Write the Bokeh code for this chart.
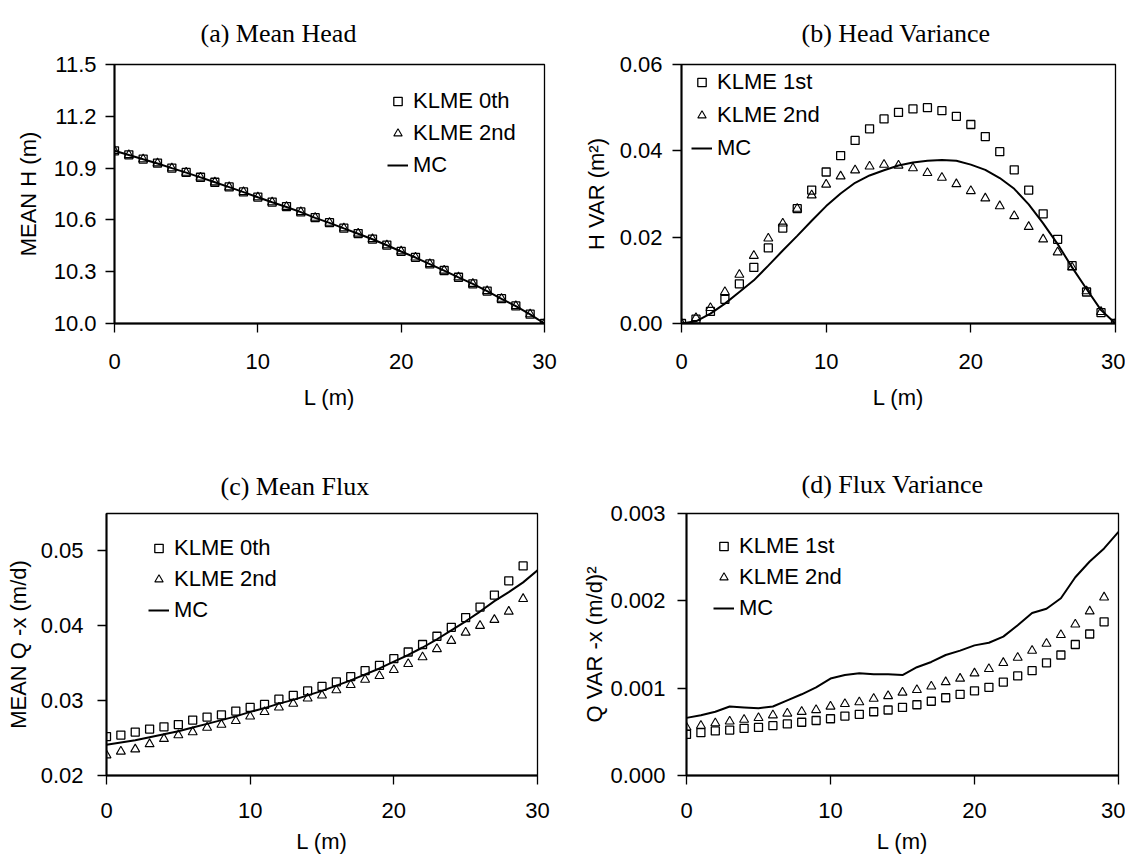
from bokeh.plotting import figure
from bokeh.layouts import column, row
from bokeh.models import (FixedTicker, NumeralTickFormatter, Legend, LegendItem, Range1d)
from bokeh.embed import file_html
from bokeh.resources import INLINE

# ---------------- data ----------------
L_pts = list(range(31))          # nodes 0..30 (panels a, b)
L_flux = list(range(30))         # cells 0..29 (panels c, d)
L_mc = list(range(31))

head_klme0 = [11.000, 10.977, 10.952, 10.929, 10.900, 10.875, 10.847, 10.818, 10.791, 10.762,
              10.732, 10.703, 10.677, 10.646, 10.613, 10.584, 10.552, 10.521, 10.489, 10.454,
              10.418, 10.383, 10.345, 10.307, 10.268, 10.230, 10.188, 10.144, 10.102, 10.054, 10.000]
head_klme2 = [11.000, 10.976, 10.952, 10.928, 10.900, 10.874, 10.846, 10.818, 10.790, 10.762,
              10.732, 10.703, 10.676, 10.646, 10.613, 10.584, 10.552, 10.521, 10.489, 10.454,
              10.418, 10.383, 10.345, 10.307, 10.268, 10.230, 10.188, 10.144, 10.102, 10.054, 10.000]
head_mc = [11.000, 10.976, 10.951, 10.927, 10.900, 10.874, 10.846, 10.818, 10.790, 10.761,
           10.731, 10.702, 10.675, 10.645, 10.612, 10.583, 10.551, 10.520, 10.488, 10.453,
           10.417, 10.382, 10.344, 10.306, 10.267, 10.229, 10.187, 10.143, 10.101, 10.053, 10.000]

hvar_klme1 = [0.0, 0.0010, 0.0028, 0.0056, 0.0092, 0.0130, 0.0175, 0.0221, 0.0266, 0.0309,
              0.0351, 0.0389, 0.0424, 0.0451, 0.0474, 0.0489, 0.0497, 0.0500, 0.0493, 0.0480,
              0.0461, 0.0433, 0.0398, 0.0356, 0.0309, 0.0254, 0.0195, 0.0134, 0.0073, 0.0025, 0.0]
hvar_klme2 = [0.0, 0.0013, 0.0036, 0.0073, 0.0113, 0.0157, 0.0197, 0.0232, 0.0266, 0.0297,
              0.0322, 0.0341, 0.0355, 0.0364, 0.0368, 0.0366, 0.0360, 0.0349, 0.0338, 0.0323,
              0.0307, 0.0290, 0.0272, 0.0249, 0.0224, 0.0195, 0.0165, 0.0130, 0.0075, 0.0027, 0.0]
hvar_mc = [0.0, 0.0005, 0.0023, 0.0046, 0.0073, 0.0100, 0.0134, 0.0169, 0.0203, 0.0238,
           0.0272, 0.0301, 0.0326, 0.0343, 0.0355, 0.0366, 0.0373, 0.0377, 0.0379, 0.0377,
           0.0368, 0.0356, 0.0337, 0.0312, 0.0276, 0.0232, 0.0184, 0.0130, 0.0080, 0.0031, 0.0]

qmean_klme0 = [0.0252, 0.0254, 0.0258, 0.0262, 0.0265, 0.0268, 0.0274, 0.0278, 0.0281, 0.0286,
               0.0291, 0.0295, 0.0302, 0.0307, 0.0313, 0.0319, 0.0325, 0.0332, 0.0340, 0.0347,
               0.0356, 0.0365, 0.0375, 0.0386, 0.0398, 0.0411, 0.0425, 0.0441, 0.0460, 0.0480]
qmean_klme2 = [0.0227, 0.0232, 0.0235, 0.0242, 0.0249, 0.0254, 0.0258, 0.0264, 0.0268, 0.0273,
               0.0279, 0.0285, 0.0291, 0.0296, 0.0303, 0.0307, 0.0314, 0.0321, 0.0328, 0.0333,
               0.0341, 0.0349, 0.0358, 0.0369, 0.0380, 0.0391, 0.0400, 0.0408, 0.0419, 0.0436]
qmean_mc = [0.0241, 0.0244, 0.0247, 0.0251, 0.0255, 0.0259, 0.0264, 0.0269, 0.0274, 0.0279,
            0.0285, 0.0290, 0.0296, 0.0301, 0.0307, 0.0313, 0.0320, 0.0327, 0.0335, 0.0343,
            0.0352, 0.0361, 0.0371, 0.0382, 0.0394, 0.0406, 0.0419, 0.0433, 0.0445, 0.0458, 0.0474]

qvar_klme1 = [0.00047, 0.00049, 0.00051, 0.00052, 0.00054, 0.00055, 0.00057, 0.00059, 0.00061, 0.00063,
              0.00065, 0.00068, 0.00070, 0.00073, 0.00075, 0.00078, 0.00081, 0.00085, 0.00089, 0.00093,
              0.00097, 0.00101, 0.00107, 0.00114, 0.00120, 0.00129, 0.00138, 0.00150, 0.00162, 0.00176]
qvar_klme2 = [0.00055, 0.00057, 0.00060, 0.00062, 0.00064, 0.00066, 0.00069, 0.00071, 0.00073, 0.00075,
              0.00079, 0.00082, 0.00084, 0.00088, 0.00091, 0.00095, 0.00098, 0.00102, 0.00107, 0.00111,
              0.00117, 0.00122, 0.00129, 0.00135, 0.00143, 0.00151, 0.00161, 0.00173, 0.00188, 0.00204]
qvar_mc = [0.00066, 0.00069, 0.00073, 0.00079, 0.00078, 0.00077, 0.00079, 0.00086, 0.00093, 0.00101,
           0.00111, 0.00115, 0.00117, 0.00116, 0.00116, 0.00115, 0.00124, 0.00130, 0.00138, 0.00143,
           0.00149, 0.00152, 0.00159, 0.00172, 0.00186, 0.00191, 0.00203, 0.00227, 0.00245, 0.00260, 0.00279]

x_ticks = [0, 10, 20, 30]

SANS = "Liberation Sans"
SERIF = "Liberation Serif"
FS = "22px"


def panel(width, height, bl, br, bt, bb, yr, yticks, yfmt, ylabel,
          tick_stand, ylab_stand, xstand, title, title_offset, title_valign, title_standoff):
    p = figure(width=width, height=height, x_range=Range1d(0, 30), y_range=Range1d(*yr),
               output_backend="svg", toolbar_location=None, title=title,
               min_border_left=bl, min_border_right=br, min_border_top=bt, min_border_bottom=bb)
    p.title.align = "left"
    p.title.offset = title_offset
    p.title.vertical_align = title_valign
    p.title.standoff = title_standoff
    p.title.text_font = SERIF
    p.title.text_font_size = "26px"
    p.title.text_font_style = "normal"
    p.title.text_color = "black"
    p.grid.visible = False
    p.outline_line_color = "black"
    p.outline_line_width = 1.3
    p.background_fill_color = "white"
    p.border_fill_color = "white"
    for ax in (p.xaxis[0], p.yaxis[0]):
        ax.axis_line_width = 2
        ax.axis_line_color = "black"
        ax.major_tick_out = 9
        ax.major_tick_in = 0
        ax.minor_tick_out = 0
        ax.minor_tick_in = 0
        ax.major_tick_line_width = 1.3
        ax.major_label_text_font = SANS
        ax.major_label_text_font_size = FS
        ax.major_label_text_color = "black"
        ax.axis_label_text_font = SANS
        ax.axis_label_text_font_size = FS
        ax.axis_label_text_font_style = "normal"
        ax.axis_label_text_color = "black"
    p.xaxis.ticker = FixedTicker(ticks=x_ticks)
    p.xaxis.axis_label = "L (m)"
    p.xaxis.major_label_standoff = xstand[0]
    p.xaxis.axis_label_standoff = xstand[1]
    p.yaxis.ticker = FixedTicker(ticks=yticks)
    p.yaxis.formatter = NumeralTickFormatter(format=yfmt)
    p.yaxis.axis_label = ylabel
    p.yaxis.major_label_standoff = tick_stand
    p.yaxis.axis_label_standoff = ylab_stand
    return p


def series(p, xs_pts, y_sq, y_tri, y_mc, labels, loc, spacing):
    r_sq = p.scatter(xs_pts, y_sq, marker="square", size=8, fill_color=None,
                     line_color="black", line_width=1.3)
    r_tri = p.scatter(xs_pts, y_tri, marker="triangle", size=9, fill_color=None,
                      line_color="black", line_width=1.1)
    r_mc = p.line(L_mc, y_mc, line_color="black", line_width=2)
    leg = Legend(items=[LegendItem(label=labels[0], renderers=[r_sq]),
                        LegendItem(label=labels[1], renderers=[r_tri]),
                        LegendItem(label="MC", renderers=[r_mc])],
                 location=loc, border_line_color=None, background_fill_alpha=0,
                 padding=0, margin=0, spacing=spacing, glyph_width=21, glyph_height=24,
                 label_height=24, label_standoff=5, label_text_font=SANS,
                 label_text_font_size=FS, label_text_color="black")
    p.add_layout(leg)


TOP_X = (21, 13)
BOT_X = (18, 8)

pa = panel(566, 412, 114, 22, 64, 88, (10.0, 11.5), [10.0, 10.3, 10.6, 10.9, 11.2, 11.5], "0.0",
           "MEAN H (m)", 9, 10, TOP_X, "(a) Mean Head", 86, "top", 30)
series(pa, L_pts, head_klme0, head_klme2, head_mc, ("KLME 0th", "KLME 2nd"), (273, 145), 6)

pb = panel(559, 412, 115, 10, 64, 88, (0.0, 0.06), [0.0, 0.02, 0.04, 0.06], "0.00",
           "H VAR (m²)", 10, 8, TOP_X, "(b) Head Variance", 120, "top", 30)
series(pb, L_pts, hvar_klme1, hvar_klme2, hvar_mc, ("KLME 1st", "KLME 2nd"), (10, 162), 7)

pc = panel(566, 445, 106, 29, 101, 82, (0.02, 0.055), [0.02, 0.03, 0.04, 0.05], "0.00",
           "MEAN Q -x (m/d)", 14, 7, BOT_X, "(c) Mean Flux", 114, "bottom", 26)
series(pc, L_flux, qmean_klme0, qmean_klme2, qmean_mc, ("KLME 0th", "KLME 2nd"), (42, 152), 5)

pd_ = panel(559, 445, 120, 7, 101, 82, (0.0, 0.003), [0.0, 0.001, 0.002, 0.003], "0.000",
            "Q VAR -x (m/d)²", 12, 0, BOT_X, "(d) Flux Variance", 115, "bottom", 30)
series(pd_, L_flux, qvar_klme1, qvar_klme2, qvar_mc, ("KLME 1st", "KLME 2nd"), (27, 154), 5)

layout = column(row(pa, pb), row(pc, pd_))
open("out.html", "w").write(file_html(layout, INLINE))
